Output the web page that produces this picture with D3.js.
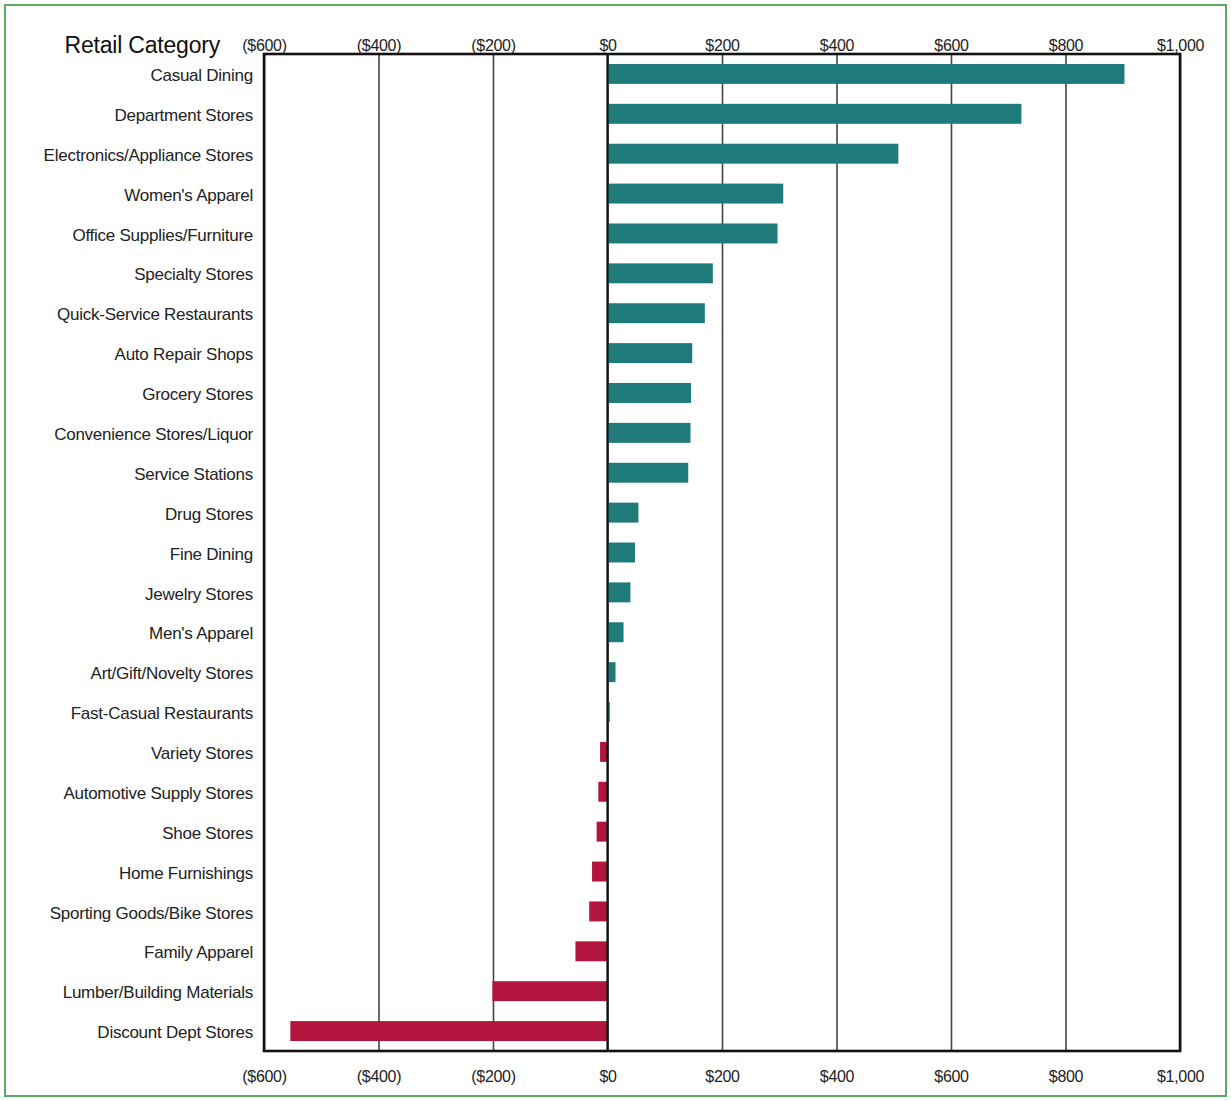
<!DOCTYPE html>
<html>
<head>
<meta charset="utf-8">
<script src="https://cdn.jsdelivr.net/npm/d3@7"></script>
<style>
  html, body { margin: 0; padding: 0; background: #fff; }
  svg { display: block; }
  .lbl { font-family: "Liberation Sans Narrow", "Arial Narrow", "Liberation Sans", Arial, sans-serif; }
</style>
</head>
<body>
<svg id="chart" width="1231" height="1101"></svg>
<script>
const categories = [
  "Casual Dining", "Department Stores", "Electronics/Appliance Stores", "Women's Apparel",
  "Office Supplies/Furniture", "Specialty Stores", "Quick-Service Restaurants", "Auto Repair Shops",
  "Grocery Stores", "Convenience Stores/Liquor", "Service Stations", "Drug Stores", "Fine Dining",
  "Jewelry Stores", "Men's Apparel", "Art/Gift/Novelty Stores", "Fast-Casual Restaurants",
  "Variety Stores", "Automotive Supply Stores", "Shoe Stores", "Home Furnishings",
  "Sporting Goods/Bike Stores", "Family Apparel", "Lumber/Building Materials", "Discount Dept Stores"
];
const values = [
  903, 723, 508, 307, 297, 184, 170, 148, 146, 145, 141, 54, 48, 40, 28, 14, 4,
  -13, -16, -19, -27, -32, -56, -201, -554
];
const tickValues = [-600, -400, -200, 0, 200, 400, 600, 800, 1000];
const titleText = "Retail Category";

(function () {
const svg = d3.select("#chart");
const W = 1231, H = 1101;
const mL = 264, mR = 1180, mT = 54, mB = 1051;

// outer green frame
svg.append("rect").attr("x", 5).attr("y", 5).attr("width", W - 10).attr("height", H - 10)
  .attr("fill", "#fff").attr("stroke", "#5fa860").attr("stroke-width", 2);

const x = d3.scaleLinear().domain([-600, 1000]).range([mL, mR]);
const y = d3.scaleBand().domain(categories).range([mT, mB]).paddingInner(0.5).paddingOuter(0.25);

const fmt = v => {
  const s = "$" + d3.format(",")(Math.abs(v));
  return v < 0 ? "(" + s + ")" : s;
};

// gridlines
const grid = svg.append("g").attr("transform", `translate(0,${mB})`)
  .call(d3.axisBottom(x).tickValues(tickValues).tickSize(-(mB - mT)).tickFormat(""));
grid.select(".domain").remove();
grid.selectAll(".tick line").attr("stroke", "#444").attr("stroke-width", 1.6);

// bars
svg.append("g").selectAll("rect").data(values).join("rect")
  .attr("x", d => x(Math.min(0, d)))
  .attr("y", (d, i) => y(categories[i]))
  .attr("width", d => Math.abs(x(d) - x(0)))
  .attr("height", y.bandwidth())
  .attr("fill", d => d >= 0 ? "#1f7b79" : "#b4153f");

// zero line
svg.append("line").attr("x1", x(0)).attr("x2", x(0)).attr("y1", mT).attr("y2", mB)
  .attr("stroke", "#111").attr("stroke-width", 2.2);

// frame
svg.append("rect").attr("x", mL).attr("y", mT).attr("width", mR - mL).attr("height", mB - mT)
  .attr("fill", "none").attr("stroke", "#111").attr("stroke-width", 2.6);

// top axis labels
const ax1 = svg.append("g").attr("transform", `translate(0,${mT})`)
  .call(d3.axisTop(x).tickValues(tickValues).tickSize(0).tickPadding(3).tickFormat(fmt));
ax1.select(".domain").remove();
ax1.selectAll("text").attr("class", "lbl").attr("font-size", 16).attr("letter-spacing", -0.3).attr("fill", "#222");

// bottom axis labels
const ax2 = svg.append("g").attr("transform", `translate(0,${mB})`)
  .call(d3.axisBottom(x).tickValues(tickValues).tickSize(0).tickPadding(20).tickFormat(fmt));
ax2.select(".domain").remove();
ax2.selectAll("text").attr("class", "lbl").attr("font-size", 16).attr("letter-spacing", -0.3).attr("fill", "#222");

// category labels
const ay = svg.append("g").attr("transform", `translate(${mL},0)`)
  .call(d3.axisLeft(y).tickSize(0).tickPadding(11));
ay.select(".domain").remove();
ay.selectAll("text").attr("class", "lbl").attr("font-size", 17).attr("letter-spacing", -0.25)
  .attr("dy", "0.42em").attr("fill", "#222");

// title
svg.append("text").attr("class", "lbl").attr("x", 220).attr("y", 53)
  .attr("text-anchor", "end").attr("font-size", 23).attr("letter-spacing", -0.2).attr("fill", "#111").text(titleText);
})();
</script>
</body>
</html>
